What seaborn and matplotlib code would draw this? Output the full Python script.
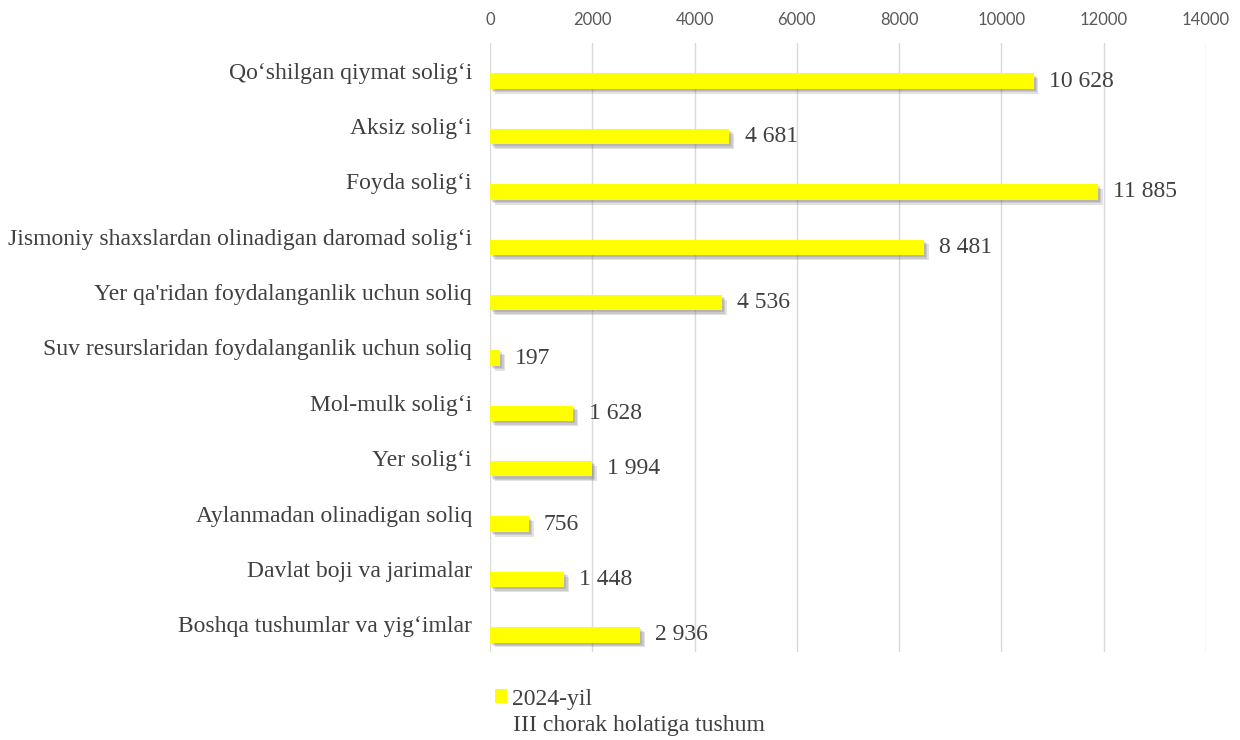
import matplotlib
matplotlib.use('Agg')
import matplotlib.pyplot as plt
import matplotlib.patheffects as pe
from matplotlib.patches import Patch
import seaborn as sns

categories = [
    "Qo‘shilgan qiymat solig‘i",
    "Aksiz solig‘i",
    "Foyda solig‘i",
    "Jismoniy shaxslardan olinadigan daromad solig‘i",
    "Yer qa'ridan foydalanganlik uchun soliq",
    "Suv resurslaridan foydalanganlik uchun soliq",
    "Mol-mulk solig‘i",
    "Yer solig‘i",
    "Aylanmadan olinadigan soliq",
    "Davlat boji va jarimalar",
    "Boshqa tushumlar va yig‘imlar",
]
values = [10628, 4681, 11885, 8481, 4536, 197, 1628, 1994, 756, 1448, 2936]
x_ticks = [0, 2000, 4000, 6000, 8000, 10000, 12000, 14000]
series_name = "2024-yil"
series_note = "III chorak holatiga tushum"

sns.set_style('white')
plt.rcParams['font.family'] = ['Liberation Serif', 'DejaVu Serif']

text_col = '#404040'
yellow = '#FFFF00'

fig = plt.figure(figsize=(12.4, 7.4), dpi=100)
ax = fig.add_axes([490 / 1240, 1 - 652 / 740, 716 / 1240, 609 / 740])

sns.barplot(x=values, y=categories, orient='h', color=yellow, width=0.28,
            saturation=1, ax=ax)

# bars sit a little below the category centre, with a soft shadow
shadow = [pe.SimplePatchShadow(offset=(d, -d), shadow_rgbFace='#606060', alpha=0.18)
          for d in (3.5, 2.5, 1.5)]
for bar in ax.patches:
    bar.set_y(bar.get_y() + 0.19)
    bar.set_edgecolor('none')
    bar.set_path_effects(shadow + [pe.Normal()])

labels = [f"{v:,}".replace(',', ' ') for v in values]
ax.bar_label(ax.containers[0], labels=labels, padding=11, fontsize=17, color=text_col)

ax.set_xlim(0, 14000)
ax.set_xticks(x_ticks)
ax.xaxis.tick_top()
ax.tick_params(axis='x', length=0, pad=11, labelsize=12, labelcolor='#595959')
for lab in ax.get_xticklabels():
    lab.set_family(['Lato', 'DejaVu Sans'])
ax.tick_params(axis='y', length=0, pad=13, labelsize=17, labelcolor=text_col)
ax.grid(axis='x', color='#d9d9d9', lw=1)
ax.set_axisbelow(True)
for s in ax.spines.values():
    s.set_visible(False)
ax.set_xlabel('')
ax.set_ylabel('')

fig.legend(handles=[Patch(facecolor=yellow, edgecolor='none')], labels=[series_name],
           loc='center left', bbox_to_anchor=(495 / 1240, 1 - 699 / 740),
           frameon=False, fontsize=17, handlelength=0.5, handleheight=0.5,
           handletextpad=0.2, borderpad=0, borderaxespad=0, labelcolor=text_col)
fig.text(513 / 1240, 1 - 726 / 740, series_note, fontsize=17, color=text_col,
         ha='left', va='center')

fig.savefig('out.png', dpi=100)
